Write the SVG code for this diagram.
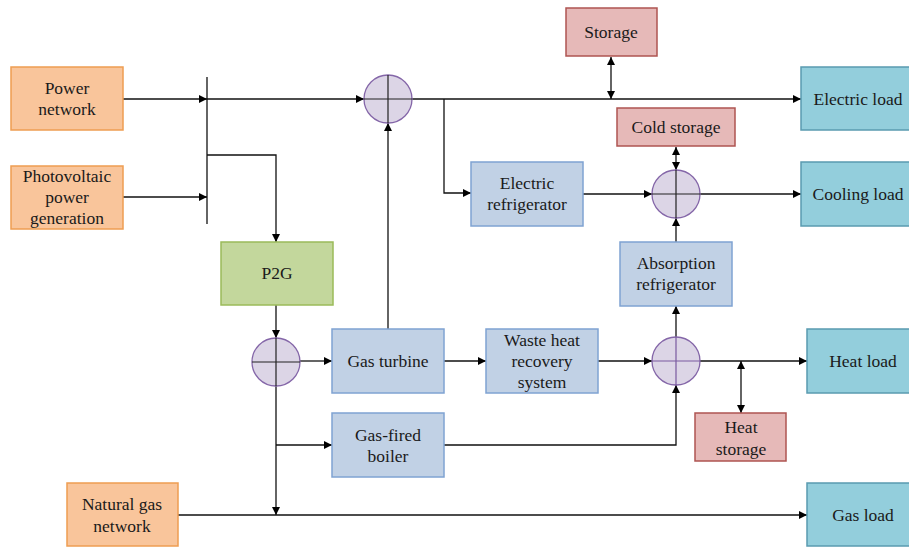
<svg xmlns="http://www.w3.org/2000/svg" width="909" height="548" viewBox="0 0 909 548" font-family="'Liberation Serif', 'DejaVu Serif', serif">
<style>
text{font-family:'Liberation Serif','DejaVu Serif',serif;font-size:17.5px;fill:#1a1a1a;text-anchor:middle}
.src{fill:#F9C59B;stroke:#EE9D52;stroke-width:1.5}
.dev{fill:#C1D1E5;stroke:#7FA3D2;stroke-width:1.5}
.load{fill:#93CEDC;stroke:#5A9BB0;stroke-width:1.5}
.sto{fill:#E6B9B8;stroke:#AE5451;stroke-width:1.5}
.p2g{fill:#C3D79C;stroke:#9BBB59;stroke-width:1.5}
.sum{fill:#DCD5E6;stroke:#8466A8;stroke-width:1.3}
.cross{stroke:#222;stroke-width:1.2;fill:none}
.ln{stroke:#111;stroke-width:1.3;fill:none}
</style>
<defs>
<marker id="ah" viewBox="0 0 10 10" refX="10" refY="5" markerWidth="9" markerHeight="8" markerUnits="userSpaceOnUse" orient="auto-start-reverse">
<path d="M0,0 L10,5 L0,10 z" fill="#000"/>
</marker>
</defs>

<g id="connectors">
<path class="ln" d="M123,99 H207" marker-end="url(#ah)"/>
<path class="ln" d="M123,197 H207" marker-end="url(#ah)"/>
<path class="ln" d="M207,77 V224"/>
<path class="ln" d="M207,99 H364" marker-end="url(#ah)"/>
<path class="ln" d="M207,155 H276 V242" marker-end="url(#ah)"/>
<path class="ln" d="M412,99 H801" marker-end="url(#ah)"/>
<path class="ln" d="M611,57 V99" marker-start="url(#ah)" marker-end="url(#ah)"/>
<path class="ln" d="M444,99 V193 H471" marker-end="url(#ah)"/>
<path class="ln" d="M583,194 H652" marker-end="url(#ah)"/>
<path class="ln" d="M676,147 V170" marker-start="url(#ah)" marker-end="url(#ah)"/>
<path class="ln" d="M700,194 H801" marker-end="url(#ah)"/>
<path class="ln" d="M676,242 V218" marker-end="url(#ah)"/>
<path class="ln" d="M388,329 V123" marker-end="url(#ah)"/>
<path class="ln" d="M276,305 V338" marker-end="url(#ah)"/>
<path class="ln" d="M300,361 H332" marker-end="url(#ah)"/>
<path class="ln" d="M444,361 H486" marker-end="url(#ah)"/>
<path class="ln" d="M598,361 H652" marker-end="url(#ah)"/>
<path class="ln" d="M676,337 V306" marker-end="url(#ah)"/>
<path class="ln" d="M700,361 H807" marker-end="url(#ah)"/>
<path class="ln" d="M741,361 V413" marker-start="url(#ah)" marker-end="url(#ah)"/>
<path class="ln" d="M444,445 H676 V385" marker-end="url(#ah)"/>
<path class="ln" d="M276,385 V515" marker-end="url(#ah)"/>
<path class="ln" d="M276,445 H332" marker-end="url(#ah)"/>
<path class="ln" d="M178,515 H807" marker-end="url(#ah)"/>
</g>

<g id="power-network"><rect class="src" x="11" y="67" width="112" height="63"/><text x="67" y="94">Power</text><text x="67" y="115">network</text></g>
<g id="photovoltaic"><rect class="src" x="11" y="166" width="112" height="63"/><text x="67" y="182">Photovoltaic</text><text x="67" y="203">power</text><text x="67" y="224">generation</text></g>
<g id="natural-gas-network"><rect class="src" x="67" y="483" width="111" height="63"/><text x="122" y="510">Natural gas</text><text x="122" y="532">network</text></g>

<g id="storage"><rect class="sto" x="566" y="8" width="91" height="48"/><text x="611" y="38">Storage</text></g>
<g id="cold-storage"><rect class="sto" x="617" y="108" width="118" height="38"/><text x="676" y="133">Cold storage</text></g>
<g id="heat-storage"><rect class="sto" x="695" y="413" width="91" height="48"/><text x="741" y="433">Heat</text><text x="741" y="455">storage</text></g>

<g id="electric-load"><rect class="load" x="801" y="67" width="110" height="63"/><text x="858" y="105">Electric load</text></g>
<g id="cooling-load"><rect class="load" x="801" y="162" width="110" height="64"/><text x="858" y="200">Cooling load</text></g>
<g id="heat-load"><rect class="load" x="807" y="329" width="104" height="64"/><text x="863" y="367">Heat load</text></g>
<g id="gas-load"><rect class="load" x="807" y="483" width="104" height="63"/><text x="863" y="521">Gas load</text></g>

<g id="electric-refrigerator"><rect class="dev" x="471" y="162" width="112" height="64"/><text x="527" y="189">Electric</text><text x="527" y="210">refrigerator</text></g>
<g id="absorption-refrigerator"><rect class="dev" x="620" y="242" width="112" height="64"/><text x="676" y="269">Absorption</text><text x="676" y="290">refrigerator</text></g>
<g id="gas-turbine"><rect class="dev" x="332" y="329" width="112" height="64"/><text x="388" y="367">Gas turbine</text></g>
<g id="waste-heat"><rect class="dev" x="486" y="329" width="112" height="64"/><text x="542" y="346">Waste heat</text><text x="542" y="367">recovery</text><text x="542" y="388">system</text></g>
<g id="gas-boiler"><rect class="dev" x="332" y="413" width="112" height="64"/><text x="388" y="441">Gas-fired</text><text x="388" y="462">boiler</text></g>
<g id="p2g"><rect class="p2g" x="221" y="242" width="112" height="63"/><text x="277" y="279">P2G</text></g>

<g id="bus-electric"><circle class="sum" cx="388" cy="99" r="24"/><path class="cross" d="M364,99 H412 M388,75 V123"/></g>
<g id="bus-cooling"><circle class="sum" cx="676" cy="194" r="24"/><path class="cross" d="M652,194 H700 M676,170 V218"/></g>
<g id="bus-gas"><circle class="sum" cx="276" cy="362" r="24"/><path class="cross" d="M252,362 H300 M276,338 V386"/></g>
<g id="bus-heat"><circle class="sum" cx="676" cy="361" r="24"/><path class="cross" style="stroke:#7a5aa0" d="M652,361 H700 M676,337 V385"/></g>
</svg>
